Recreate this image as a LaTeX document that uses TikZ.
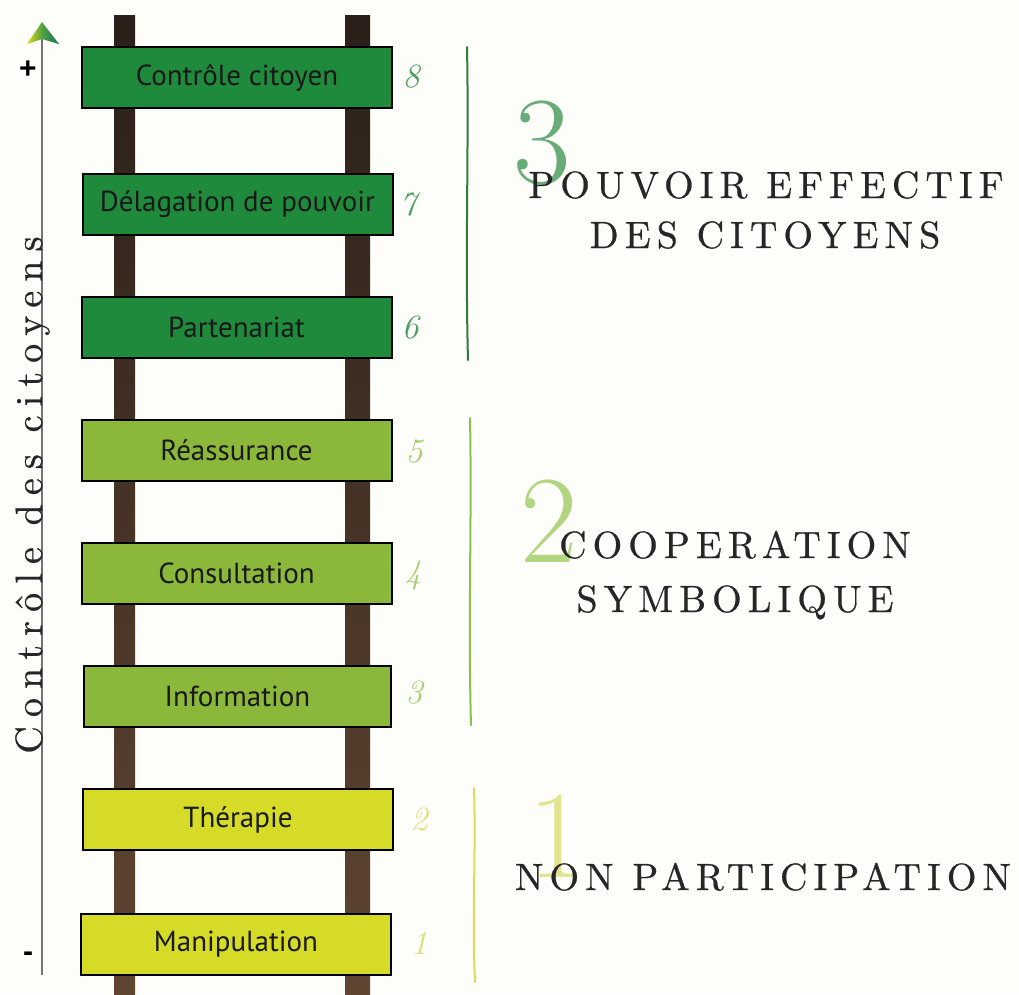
\documentclass[tikz,border=0pt]{standalone}
\usepackage{fontspec}
\newfontfamily\boxfont{PT Sans}
\newfontfamily\signfont{Liberation Sans}
\newfontfamily\spacedfont[LetterSpace=16,FakeBold=0.6]{lmroman10-regular.otf}
\newfontfamily\axisfont[LetterSpace=24,FakeBold=0.6]{lmroman10-regular.otf}
\definecolor{bg}{HTML}{FDFDF9}
\definecolor{dkgreen}{HTML}{1F8A3B}
\definecolor{mdgreen}{HTML}{8BB83B}
\definecolor{ylgreen}{HTML}{D5DB27}
\definecolor{railtop}{HTML}{2A2019}
\definecolor{railbot}{HTML}{604532}
\definecolor{brk3}{HTML}{2E7D3E}
\definecolor{brk2}{HTML}{8CC04A}
\definecolor{brk1}{HTML}{D8DC5A}
\definecolor{num3}{HTML}{4E9E62}
\definecolor{num2}{HTML}{A6CE6A}
\definecolor{num1}{HTML}{DCE07C}
\definecolor{arrL}{HTML}{E2D820}
\definecolor{arrM}{HTML}{4CA040}
\definecolor{arrR}{HTML}{1A7060}
\tikzset{
  rung/.style={draw=black, line width=2pt, minimum width=310pt, minimum height=61pt,
     inner sep=0pt, text=black!90, font=\boxfont\fontsize{29}{32}\selectfont},
  rail/.style={top color=railtop, bottom color=railbot, draw=none},
  hand/.style={font=\itshape\fontsize{34}{34}\selectfont, inner sep=0pt},
  title/.style={anchor=base, inner sep=0pt, text=black!85,
     font=\spacedfont\fontsize{38}{40}\selectfont},
  bignum/.style={inner sep=0pt, font=\fontsize{125}{125}\selectfont, opacity=0.85},
  brk/.style={line width=2pt, line cap=round},
  sign/.style={font=\signfont\bfseries\fontsize{30}{30}\selectfont, inner sep=0pt}
}
\begin{document}
\begin{tikzpicture}[x=1pt,y=-1pt]
\fill[bg] (0,0) rectangle (1019,994);
\useasboundingbox (0,0) rectangle (1019,994);
% rails
\shade[rail] (114,15) rectangle (135,994);
\shade[rail] (345,15) rectangle (370,994);
% rungs
\node[rung, fill=dkgreen] (r8) at (237,77.5) {Contrôle citoyen};
\node[rung, fill=dkgreen] (r7) at (237.5,204) {Délagation de pouvoir};
\node[rung, fill=dkgreen] (r6) at (236.5,327.5) {Partenariat};
\node[rung, fill=mdgreen] (r5) at (236.5,450.5) {Réassurance};
\node[rung, fill=mdgreen] (r4) at (236.5,573) {Consultation};
\node[rung, fill=mdgreen, minimum width=307pt] (r3) at (237.5,696.5) {Information};
\node[rung, fill=ylgreen] (r2) at (238,819.5) {Thérapie};
\node[rung, fill=ylgreen] (r1) at (236,944.5) {Manipulation};
% step numbers
\node[hand, text=num3] (n8) at (411,77) {8};
\node[hand, text=num3] (n7) at (408,205) {7};
\node[hand, text=num3] (n6) at (410,328) {6};
\node[hand, text=num2] (n5) at (414,452) {5};
\node[hand, text=num2] (n4) at (413,575) {4};
\node[hand, text=num2] (n3) at (414,693) {3};
\node[hand, text=num1] (n2) at (419,820) {2};
\node[hand, text=num1] (n1) at (419,943) {1};
% brackets
\draw[brk, brk3] (467,47) .. controls (469,150) and (465,250) .. (468,360);
\draw[brk, brk2] (470,418) .. controls (472,520) and (468,620) .. (471,725);
\draw[brk, brk1] (474,788) .. controls (476,850) and (472,920) .. (475,982);
% big numbers
\node[bignum, text=num3] (b3) at (542,143) {3};
\node[bignum, text=num2] (b2) at (549,521) {2};
\node[bignum, text=num1] (b1) at (557,836) {1};
% group titles
\node[title] (t3a) at (766,198) {POUVOIR EFFECTIF};
\node[title] (t3b) at (765,248) {DES CITOYENS};
\node[title] (t2a) at (735,558) {COOPERATION};
\node[title] (t2b) at (735,612) {SYMBOLIQUE};
\node[title] (t1) at (763,890) {NON PARTICIPATION};
% axis
\coordinate (axbot) at (42,975);
\coordinate (axtop) at (42,38);
\draw[line width=1.5pt, black!55] (axbot) -- (axtop);
\shade[left color=arrL, right color=arrR, middle color=arrM]
  (27,44) -- (42,22) -- (59,44) -- (42,39) -- cycle;
\node[sign] (plus) at (28,70) {+};
\node[sign] (minus) at (28,957) {-};
\node[rotate=90, anchor=base, inner sep=0pt, text=black!85,
  font=\axisfont\fontsize{38}{40}\selectfont] (axlabel) at (42,495) {Contrôle des citoyens};
\end{tikzpicture}
\end{document}
